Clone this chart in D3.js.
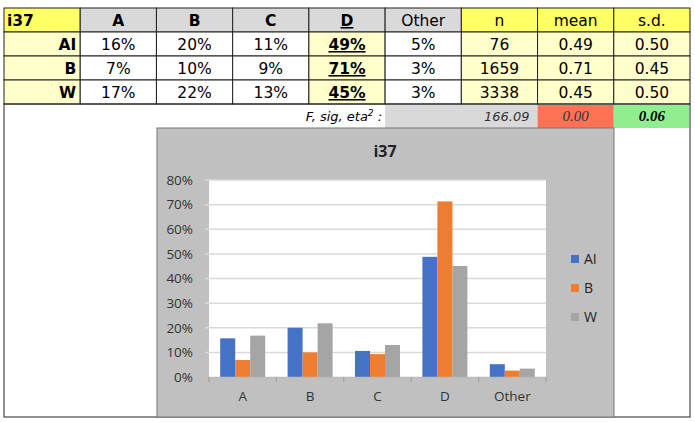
<!DOCTYPE html>
<html>
<head>
<meta charset="utf-8">
<script src="https://cdn.jsdelivr.net/npm/d3@7"></script>
<style>
  body { margin: 0; background: #fff; }
  svg text { font-family: "DejaVu Sans", Verdana, sans-serif; }
  .chart text { font-family: "Open Sans", "Liberation Sans", sans-serif; }
</style>
</head>
<body>
<div id="my_dataviz"></div>
<script>
// data
var title = "i37";
var categories = ["A", "B", "C", "D", "Other"];
var groups = ["AI", "B", "W"];
var valuesAI = [0.157, 0.200, 0.106, 0.488, 0.052];
var valuesB  = [0.069, 0.100, 0.093, 0.713, 0.026];
var valuesW  = [0.168, 0.218, 0.130, 0.451, 0.034];
var nCounts = [76, 1659, 3338];
var means = [0.49, 0.71, 0.45];
var sds = [0.50, 0.45, 0.50];
var fValue = 166.09, sigValue = 0.00, etaValue = 0.06;
var yTicks = [0, 0.1, 0.2, 0.3, 0.4, 0.5, 0.6, 0.7, 0.8];

var colors = ["#4472c4", "#ed7d31", "#a5a5a5"];
var series = [valuesAI, valuesB, valuesW];

var W = 695, H = 422;
var svg = d3.select("#my_dataviz")
  .append("svg")
    .attr("width", W)
    .attr("height", H);

// ---------- table ----------
var colLabels = [title].concat(categories).concat(["n", "mean", "s.d."]);
var col = d3.scaleLinear().domain([0, 9]).range([4, 690]);
var rowY = [8, 32, 56, 80, 104, 128];
var pct = d3.format(".0%"), f2 = d3.format(".2f");

var yellow = "#ffff66", pale = "#ffffcc", grey = "#d9d9d9";

function cell(i, r, fill) {
  svg.append("rect")
    .attr("x", col(i)).attr("y", rowY[r])
    .attr("width", col(i + 1) - col(i)).attr("height", rowY[r + 1] - rowY[r])
    .attr("fill", fill).attr("stroke", "#222").attr("stroke-width", 1);
}
function txt(x, y, s, anchor) {
  return svg.append("text").attr("x", x).attr("y", y)
    .attr("text-anchor", anchor || "middle").style("font-size", "15.5px").text(s);
}

// header row
colLabels.forEach(function(lab, i) {
  var fill = (i == 0 || i >= 6) ? yellow : grey;
  cell(i, 0, fill);
  var t;
  if (i == 0) t = txt(col(0) + 3, 26, lab, "start");
  else t = txt((col(i) + col(i + 1)) / 2, 26, lab);
  if (i <= 4) t.style("font-weight", "bold");
  if (i == 4) t.style("text-decoration", "underline");
});

// body rows
groups.forEach(function(g, r) {
  var y = rowY[r + 1] + 18;
  cell(0, r + 1, pale);
  txt(col(1) - 4, y, g, "end").style("font-weight", "bold");
  series[r].forEach(function(v, c) {
    var i = c + 1;
    cell(i, r + 1, i == 4 ? pale : "#fff");
    var t = txt((col(i) + col(i + 1)) / 2, y, pct(v));
    if (i == 4) t.style("font-weight", "bold").style("text-decoration", "underline");
  });
  cell(6, r + 1, pale); txt((col(6) + col(7)) / 2, y, nCounts[r]);
  cell(7, r + 1, pale); txt((col(7) + col(8)) / 2, y, f2(means[r]));
  cell(8, r + 1, pale); txt((col(8) + col(9)) / 2, y, f2(sds[r]));
});

// outer frame below the table
svg.append("rect")
  .attr("x", col(0)).attr("y", rowY[4])
  .attr("width", col(9) - col(0)).attr("height", 417 - rowY[4])
  .attr("fill", "none").attr("stroke", "#222").attr("stroke-width", 1);

// F row
svg.append("rect").attr("x", col(5)).attr("y", rowY[4] + 1)
  .attr("width", col(7) - col(5)).attr("height", 23).attr("fill", grey);
svg.append("rect").attr("x", col(7)).attr("y", rowY[4] + 1)
  .attr("width", col(8) - col(7)).attr("height", 23).attr("fill", "#ff7256");
svg.append("rect").attr("x", col(8)).attr("y", rowY[4] + 1)
  .attr("width", col(9) - col(8) - 1).attr("height", 23).attr("fill", "#90ee90");

var fl = svg.append("text").attr("x", col(5) - 3).attr("y", 121)
  .attr("text-anchor", "end").style("font-size", "13px").style("font-style", "italic");
fl.append("tspan").text("F, sig, eta");
fl.append("tspan").attr("dy", -5).style("font-size", "9px").text("2");
fl.append("tspan").attr("dy", 5).text(" :");
svg.append("text").attr("x", col(7) - 8).attr("y", 121)
  .attr("text-anchor", "end").style("font-size", "13px").style("font-style", "italic")
  .style("fill", "#333").text(f2(fValue));
svg.append("text").attr("x", (col(7) + col(8)) / 2).attr("y", 121)
  .attr("text-anchor", "middle").style("font-size", "15px").style("font-style", "italic")
  .style("font-family", "'Liberation Serif', serif").style("fill", "#333").text(f2(sigValue));
svg.append("text").attr("x", (col(8) + col(9)) / 2).attr("y", 121)
  .attr("text-anchor", "middle").style("font-size", "15px").style("font-style", "italic")
  .style("font-weight", "bold").style("font-family", "'Liberation Serif', serif").text(f2(etaValue));

// ---------- chart ----------
var box = {x: 157, y: 128, w: 457, h: 289};
var chart = svg.append("g").attr("class", "chart");
chart.append("rect")
  .attr("x", box.x).attr("y", box.y).attr("width", box.w).attr("height", box.h)
  .attr("fill", "#c0c0c0").attr("stroke", "#777").attr("stroke-width", 1);

chart.append("text")
  .attr("x", 385).attr("y", 157)
  .attr("text-anchor", "middle")
  .style("font-size", "16px").style("font-weight", "bold").style("fill", "#222")
  .text(title);

var x = d3.scaleBand().domain(categories).range([209, 546]);
var y = d3.scaleLinear().domain([0, 0.8]).range([377, 180]);

chart.append("rect")
  .attr("x", 209).attr("y", 180).attr("width", 337).attr("height", 197)
  .attr("fill", "#fff");

// grid lines
chart.selectAll("gridLine")
  .data(yTicks.slice(1))
  .enter()
  .append("line")
    .attr("x1", 205).attr("x2", 546)
    .attr("y1", function(d) { return y(d); })
    .attr("y2", function(d) { return y(d); })
    .attr("stroke", "#d9d9d9").attr("stroke-width", 1.5);

// y axis labels
chart.append("g")
  .attr("transform", "translate(209,0)")
  .call(d3.axisLeft(y).tickValues(yTicks).tickFormat(d3.format(".0%")).tickSize(0).tickPadding(16))
  .call(function(g) { g.select(".domain").remove(); })
  .selectAll("text")
    .style("font-size", "13.5px").style("fill", "#333")
    .style("font-family", "'Open Sans', 'Liberation Sans', sans-serif");

// bars
var inner = d3.scaleBand().domain(groups).range([0, 45]);
var pad = (x.bandwidth() - 45) / 2;
groups.forEach(function(g, gi) {
  chart.selectAll("bar" + g)
    .data(categories)
    .enter()
    .append("rect")
      .attr("x", function(d) { return x(d) + pad + inner(g); })
      .attr("y", function(d, i) { return y(series[gi][i]); })
      .attr("width", inner.bandwidth())
      .attr("height", function(d, i) { return y(0) - y(series[gi][i]); })
      .attr("fill", colors[gi]);
});

// x axis
chart.append("g")
  .attr("transform", "translate(0,377)")
  .call(d3.axisBottom(x).tickSize(0).tickPadding(14))
  .call(function(g) { g.select(".domain").attr("stroke", "#bbb").attr("stroke-width", 1.5); })
  .selectAll("text")
    .style("font-size", "13.5px").style("fill", "#333")
    .style("font-family", "'Open Sans', 'Liberation Sans', sans-serif");

chart.selectAll("xtick")
  .data(categories.concat([null]))
  .enter()
  .append("line")
    .attr("x1", function(d) { return d ? x(d) : 546; })
    .attr("x2", function(d) { return d ? x(d) : 546; })
    .attr("y1", 377).attr("y2", 382)
    .attr("stroke", "#999");

// legend
var legend = chart.selectAll("legendItem")
  .data(groups)
  .enter()
  .append("g")
    .attr("transform", function(d, i) { return "translate(571," + (255 + i * 29) + ")"; });
legend.append("rect")
  .attr("width", 8).attr("height", 8)
  .attr("fill", function(d, i) { return colors[i]; });
legend.append("text")
  .attr("x", 13).attr("y", 9)
  .style("font-size", "14px").style("fill", "#222")
  .text(function(d) { return d; });
</script>
</body>
</html>
